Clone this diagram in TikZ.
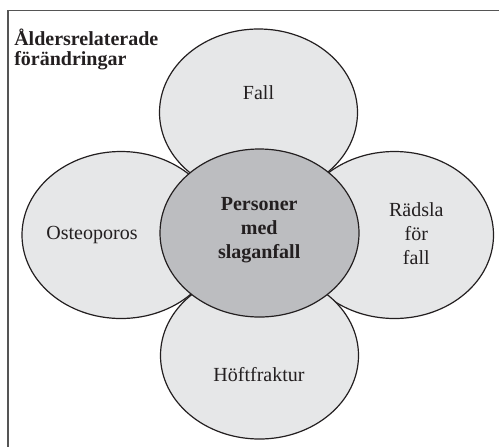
\documentclass[tikz,border=0pt]{standalone}
\usepackage{fontspec}
\setmainfont{Liberation Serif}
\usetikzlibrary{shapes.geometric}
\definecolor{ink}{HTML}{231F20}
\definecolor{petal}{HTML}{E6E7E8}
\definecolor{core}{HTML}{BCBDC0}
\definecolor{framecol}{HTML}{555555}
\begin{document}
\begin{tikzpicture}[x=0.75pt,y=-0.75pt,
  petalbox/.style={ellipse,draw=ink,line width=0.9pt,fill=petal,minimum width=148.5pt,minimum height=125.25pt,inner sep=0pt,outer sep=0pt},
  corebox/.style={petalbox,fill=core,minimum width=149.25pt,minimum height=126pt},
  lbl/.style={text=ink,font=\fontsize{15}{18}\selectfont,align=center,inner sep=0pt,anchor=base},
  boldlbl/.style={lbl,font=\fontsize{15}{17.8}\selectfont\bfseries},
  headlbl/.style={text=ink,font=\fontsize{15}{15}\selectfont\bfseries,align=left,inner sep=0pt,anchor=base west}
  ]
\useasboundingbox (0,0) rectangle (499,447);
\coordinate (ftl) at (8,10.5);
\coordinate (ftr) at (499,10.5);
\coordinate (fbl) at (8,447);
\draw[framecol,line width=0.8pt] (ftr) -- (ftl) -- (fbl);
\node[petalbox] (left) at (121,235) {};
\node[petalbox] (right) at (394.5,235) {};
\node[petalbox] (bottom) at (259.5,355.5) {};
\node[petalbox] (top) at (258.5,112.5) {};
\node[corebox] (core) at (259.5,233) {};
\node[headlbl] (head) at (14,65.5) {Åldersrelaterade\\förändringar};
\node[lbl] (tfall) at (258.5,99) {Fall};
\node[lbl] (tosteo) at (92,239.3) {Osteoporos};
\node[lbl] (thoft) at (259,381.7) {Höftfraktur};
\node[lbl] (tradsla) at (416.3,264) {Rädsla\\för\\fall};
\node[boldlbl] (tcore) at (259.2,258.3) {Personer\\med\\slaganfall};
\end{tikzpicture}
\end{document}
